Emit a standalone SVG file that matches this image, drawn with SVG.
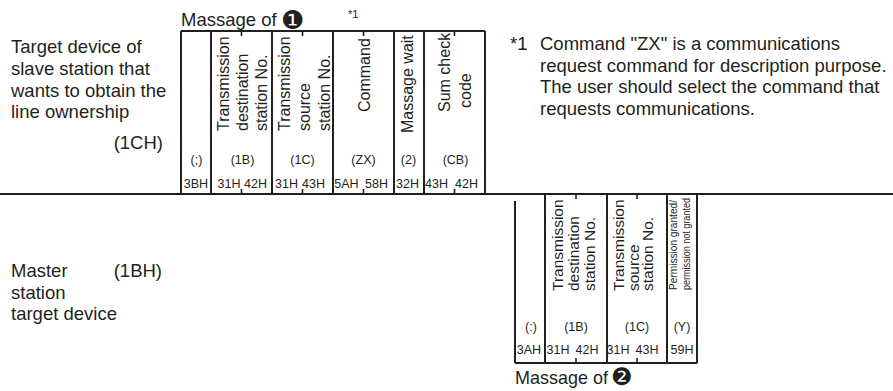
<svg xmlns="http://www.w3.org/2000/svg" width="893" height="391" viewBox="0 0 893 391">
<style>
  .ln { stroke:#231f20; stroke-width:2; fill:none; }
  .tk { stroke:#231f20; stroke-width:1.6; fill:none; }
  .big { font-family:"Liberation Sans", Arial, sans-serif; font-size:18.5px; fill:#231f20; }
  .hd { font-family:"Liberation Sans", Arial, sans-serif; font-size:16px; fill:#231f20; }
  .hd2 { font-family:"Liberation Sans", Arial, sans-serif; font-size:15.5px; fill:#231f20; }
  .sm { font-family:"Liberation Sans", Arial, sans-serif; font-size:12.5px; fill:#231f20; text-anchor:middle; }
  .tiny { font-family:"Liberation Sans", Arial, sans-serif; font-size:10.5px; fill:#231f20; }
  .num { font-family:"DejaVu Sans", sans-serif; font-size:26px; fill:#231f20; }
  .ast { font-family:"Liberation Sans", Arial, sans-serif; font-size:11px; fill:#231f20; }
</style>
<rect width="893" height="391" fill="#ffffff"/>

<g id="slave-label">
  <text class="big" x="11" y="53">Target device of</text>
  <text class="big" x="11" y="75">slave station that</text>
  <text class="big" x="11" y="96.5">wants to obtain the</text>
  <text class="big" x="11" y="118">line ownership</text>
  <text class="big" x="163" y="149" text-anchor="end">(1CH)</text>
</g>

<g id="master-label">
  <text class="big" x="11" y="277">Master</text>
  <text class="big" x="162" y="277" text-anchor="end">(1BH)</text>
  <text class="big" x="11" y="298.5">station</text>
  <text class="big" x="11" y="320">target device</text>
</g>

<g id="footnote">
  <text class="big" x="510" y="50">*1</text>
  <text class="big" x="540" y="50">Command "ZX" is a communications</text>
  <text class="big" x="540" y="71.5">request command for description purpose.</text>
  <text class="big" x="540" y="93">The user should select the command that</text>
  <text class="big" x="540" y="114.5">requests communications.</text>
</g>

<g id="message1">
  <text class="big" x="181" y="26">Massage of</text>
  <text class="num" x="281" y="28.5">❶</text>
  <text class="ast" x="348" y="18">*1</text>
  <path class="ln" d="M181 31 H485 M181 31 V194 M211 31 V194 M272 31 V194 M333 31 V194 M394 31 V194 M424 31 V194 M485 31 V194"/>
  <path class="tk" d="M241.5 31 V36 M302.5 31 V36 M363.5 31 V36 M454.5 31 V36 M241.5 189 V194 M302.5 189 V194 M363.5 189 V194 M454.5 189 V194"/>
  <text class="hd" transform="translate(228.5,131) rotate(-90)">Transmission</text>
  <text class="hd" transform="translate(248,131) rotate(-90)">destination</text>
  <text class="hd" transform="translate(266.5,131) rotate(-90)">station No.</text>
  <text class="hd" transform="translate(290,131) rotate(-90)">Transmission</text>
  <text class="hd" transform="translate(310,131) rotate(-90)">source</text>
  <text class="hd" transform="translate(330,131) rotate(-90)">station No.</text>
  <text class="hd" transform="translate(370,112) rotate(-90)">Command</text>
  <text class="hd" transform="translate(412.5,133) rotate(-90)">Massage wait</text>
  <text class="hd" transform="translate(450,112) rotate(-90)">Sum check</text>
  <text class="hd" transform="translate(471,108) rotate(-90)">code</text>
  <text class="sm" x="196.5" y="164">(;)</text>
  <text class="sm" x="242.5" y="164">(1B)</text>
  <text class="sm" x="302.5" y="164">(1C)</text>
  <text class="sm" x="363.5" y="164">(ZX)</text>
  <text class="sm" x="408.5" y="164">(2)</text>
  <text class="sm" x="455.5" y="164">(CB)</text>
  <text class="sm" x="196" y="187.5">3BH</text>
  <text class="sm" x="229" y="187.5">31H</text>
  <text class="sm" x="255.5" y="187.5">42H</text>
  <text class="sm" x="286.5" y="187.5">31H</text>
  <text class="sm" x="313.5" y="187.5">43H</text>
  <text class="sm" x="346.5" y="187.5">5AH</text>
  <text class="sm" x="376.5" y="187.5">58H</text>
  <text class="sm" x="407.5" y="187.5">32H</text>
  <text class="sm" x="436.5" y="187.5">43H</text>
  <text class="sm" x="466.5" y="187.5">42H</text>
</g>

<g id="connectors">
  <path class="ln" d="M0 194 H893"/>
</g>

<g id="message2">
  <path class="ln" d="M515 201 V363 M545 194 V363 M607 194 V363 M667 194 V363 M697 194 V363 M515 363 H697"/>
  <path class="tk" d="M576 194 V199 M637 194 V199 M576 358 V363 M637 358 V363"/>
  <text class="hd2" transform="translate(562.5,291) rotate(-90)">Transmission</text>
  <text class="hd2" transform="translate(578.5,291) rotate(-90)">destination</text>
  <text class="hd2" transform="translate(595,291) rotate(-90)">station No.</text>
  <text class="hd2" transform="translate(624,291) rotate(-90)">Transmission</text>
  <text class="hd2" transform="translate(638.5,291) rotate(-90)">source</text>
  <text class="hd2" transform="translate(653,291) rotate(-90)">station No.</text>
  <text class="tiny" transform="translate(677,290) rotate(-90)" textLength="90" lengthAdjust="spacingAndGlyphs">Permission granted/</text>
  <text class="tiny" transform="translate(690,290) rotate(-90)" textLength="92" lengthAdjust="spacingAndGlyphs">permission not granted</text>
  <text class="sm" x="531" y="331">(:)</text>
  <text class="sm" x="576" y="331">(1B)</text>
  <text class="sm" x="637" y="331">(1C)</text>
  <text class="sm" x="682" y="331">(Y)</text>
  <text class="sm" x="529" y="354">3AH</text>
  <text class="sm" x="558" y="354">31H</text>
  <text class="sm" x="587" y="354">42H</text>
  <text class="sm" x="618" y="354">31H</text>
  <text class="sm" x="647" y="354">43H</text>
  <text class="sm" x="682" y="354">59H</text>
  <text class="big" x="515" y="383.5" textLength="93" lengthAdjust="spacingAndGlyphs">Massage of</text>
  <text class="num" x="611" y="385" style="font-size:24px">❷</text>
</g>
</svg>
